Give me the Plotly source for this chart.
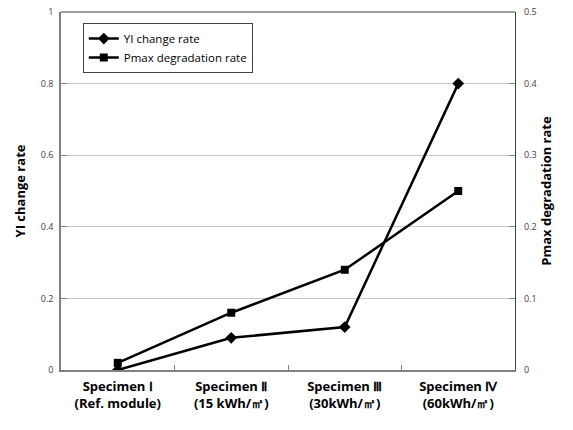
import plotly.graph_objects as go

categories = ["Specimen Ⅰ<br>(Ref. module)", "Specimen Ⅱ<br>(15 kWh/㎡)",
              "Specimen Ⅲ<br>(30kWh/㎡)", "Specimen Ⅳ<br>(60kWh/㎡)"]
yi_change = [0.0, 0.09, 0.12, 0.80]
pmax_degradation = [0.01, 0.08, 0.14, 0.25]

FONT = "Open Sans"

fig = go.Figure()
fig.add_trace(go.Scatter(
    x=categories, y=yi_change, name="YI change rate", mode="lines+markers",
    line=dict(color="black", width=2.5),
    marker=dict(symbol="diamond", size=9, color="black"),
))
fig.add_trace(go.Scatter(
    x=categories, y=pmax_degradation, name="Pmax degradation rate", mode="lines+markers",
    line=dict(color="black", width=2.5),
    marker=dict(symbol="square", size=8, color="black"),
    yaxis="y2",
))

fig.update_layout(
    width=573, height=430,
    margin=dict(l=61, r=58, t=12, b=60),
    paper_bgcolor="white", plot_bgcolor="white",
    font=dict(family=FONT, color="black"),
    showlegend=True,
    legend=dict(x=0.048, y=0.969, xanchor="left", yanchor="top",
                bordercolor="#404040", borderwidth=1, bgcolor="white",
                font=dict(size=11.5, family=FONT), tracegroupgap=2,
                itemwidth=30),
    xaxis=dict(
        type="category", range=[-0.5, 3.5], automargin=False,
        showline=True, linecolor="#808080", linewidth=1.5,
        tickson="boundaries", ticks="inside", ticklen=5, tickcolor="#808080",
        tickfont=dict(size=13, family=FONT, color="black", weight="bold"),
        ticklabelstandoff=4,
        showgrid=False, mirror=False,
    ),
    yaxis=dict(
        range=[0, 1], dtick=0.2, automargin=False,
        showline=True, linecolor="#808080", linewidth=1.5,
        ticks="inside", ticklen=6, tickcolor="#808080",
        tickfont=dict(size=9, color="#404040"), ticklabelstandoff=4,
        showgrid=True, gridcolor="#c8c8c8", gridwidth=1,
        zeroline=False,
        title=dict(text="YI change rate", font=dict(size=13, weight="bold"), standoff=12),
    ),
    yaxis2=dict(
        range=[0, 0.5], dtick=0.1, overlaying="y", side="right", automargin=False,
        showline=True, linecolor="#404040", linewidth=1.2,
        ticks="inside", ticklen=6, tickcolor="#808080",
        tickfont=dict(size=9, color="#404040"), ticklabelstandoff=6,
        showgrid=False, zeroline=False,
        title=dict(text="Pmax degradation rate", font=dict(size=13, weight="bold"), standoff=6),
    ),
    shapes=[dict(type="line", xref="paper", yref="paper", x0=0, x1=1, y0=1, y1=1,
                 line=dict(color="#404040", width=1.2))],
)

fig.write_html("out.html", config={"displayModeBar": False})
# remove the browser's default 8px body margin so the figure sits at the page origin
with open("out.html", encoding="utf-8") as f:
    html = f.read()
html = html.replace("<body>", '<body style="margin:0;padding:0;">', 1)
with open("out.html", "w", encoding="utf-8") as f:
    f.write(html)
